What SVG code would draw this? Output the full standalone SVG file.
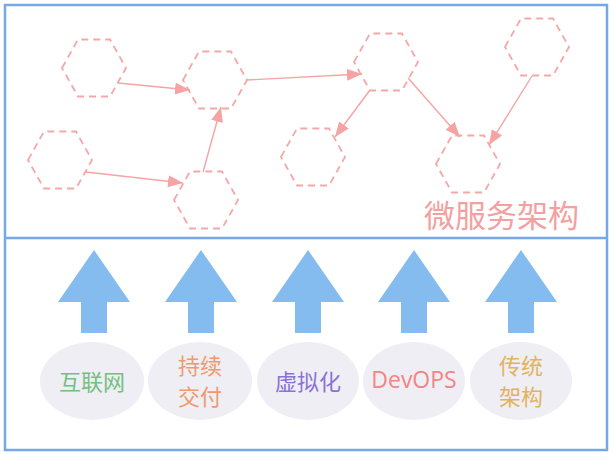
<svg xmlns="http://www.w3.org/2000/svg" xmlns:xlink="http://www.w3.org/1999/xlink" width="613" height="454" viewBox="0 0 613 454">
<style>
.frame{fill:none;stroke:#76a8e6;stroke-width:2.5}
.hex{fill:none;stroke:#f5a7a7;stroke-width:1.8;stroke-dasharray:7 5}
.conn{fill:none;stroke:#f5a3a3;stroke-width:1.4}
.up{fill:#84bcef}
.pill{fill:#eeeef4}
.lbl{font-family:"Noto Sans CJK SC","Noto Sans",sans-serif;font-size:22px;text-anchor:middle}
</style>
<defs>
<polygon id="hx" points="-32,0 -16,-28.5 16,-28.5 32,0 16,28.5 -16,28.5"/>
<marker id="ah" markerUnits="userSpaceOnUse" markerWidth="17" markerHeight="13" refX="15" refY="6" orient="auto" viewBox="0 0 17 13">
<path d="M0,0 L15,6 L0,12 Z" fill="#f5a3a3"/>
</marker>
<polygon id="ua" points="0,0 36,52 13,52 13,83 -13,83 -13,52 -36,52"/>
</defs>
<g id="frame">
<rect class="frame" x="5" y="5" width="602" height="445"/>
<line class="frame" x1="5" y1="238" x2="607" y2="238"/>
</g>
<g id="svc1" transform="translate(94,68)"><use class="hex" href="#hx"/></g>
<g id="svc2" transform="translate(215,80)"><use class="hex" href="#hx"/></g>
<g id="svc3" transform="translate(60,160)"><use class="hex" href="#hx"/></g>
<g id="svc4" transform="translate(206,200)"><use class="hex" href="#hx"/></g>
<g id="svc5" transform="translate(386,62)"><use class="hex" href="#hx"/></g>
<g id="svc6" transform="translate(313,157)"><use class="hex" href="#hx"/></g>
<g id="svc7" transform="translate(537,47)"><use class="hex" href="#hx"/></g>
<g id="svc8" transform="translate(468,164)"><use class="hex" href="#hx"/></g>
<g id="connectors">
<line class="conn" x1="118" y1="83" x2="190" y2="90" marker-end="url(#ah)"/>
<line class="conn" x1="86" y1="172" x2="183" y2="183" marker-end="url(#ah)"/>
<line class="conn" x1="203" y1="172" x2="221" y2="107" marker-end="url(#ah)"/>
<line class="conn" x1="247" y1="80" x2="362" y2="74" marker-end="url(#ah)"/>
<line class="conn" x1="370" y1="90" x2="335" y2="137" marker-end="url(#ah)"/>
<line class="conn" x1="408" y1="78" x2="460" y2="137" marker-end="url(#ah)"/>
<line class="conn" x1="532" y1="76" x2="489" y2="145" marker-end="url(#ah)"/>
</g>
<g id="title"><text x="424" y="227" font-family="'Noto Sans CJK SC','Noto Sans',sans-serif" font-size="31" fill="#f4a0a0">微服务架构</text></g>
<g id="arrows">
<use class="up" href="#ua" transform="translate(94,250)"/>
<use class="up" href="#ua" transform="translate(201,250)"/>
<use class="up" href="#ua" transform="translate(308,250)"/>
<use class="up" href="#ua" transform="translate(414,250)"/>
<use class="up" href="#ua" transform="translate(521,250)"/>
</g>
<g id="internet"><ellipse class="pill" cx="92" cy="381" rx="52" ry="39"/><text class="lbl" x="92" y="390" fill="#74c07f">互联网</text></g>
<g id="cd"><ellipse class="pill" cx="200" cy="381" rx="52" ry="39"/><text class="lbl" x="200" y="374" fill="#f2996c">持续</text><text class="lbl" x="200" y="405" fill="#f2996c">交付</text></g>
<g id="virt"><ellipse class="pill" cx="308" cy="381" rx="51" ry="39"/><text class="lbl" x="308" y="390" fill="#8a72d6">虚拟化</text></g>
<g id="devops"><ellipse class="pill" cx="414" cy="381" rx="51" ry="39"/><text x="414" y="388" font-family="'Open Sans',sans-serif" font-size="23" text-anchor="middle" fill="#f08686">DevOPS</text></g>
<g id="legacy"><ellipse class="pill" cx="521" cy="381" rx="51" ry="39"/><text class="lbl" x="521" y="374" fill="#e2b45a">传统</text><text class="lbl" x="521" y="405" fill="#e2b45a">架构</text></g>
</svg>
